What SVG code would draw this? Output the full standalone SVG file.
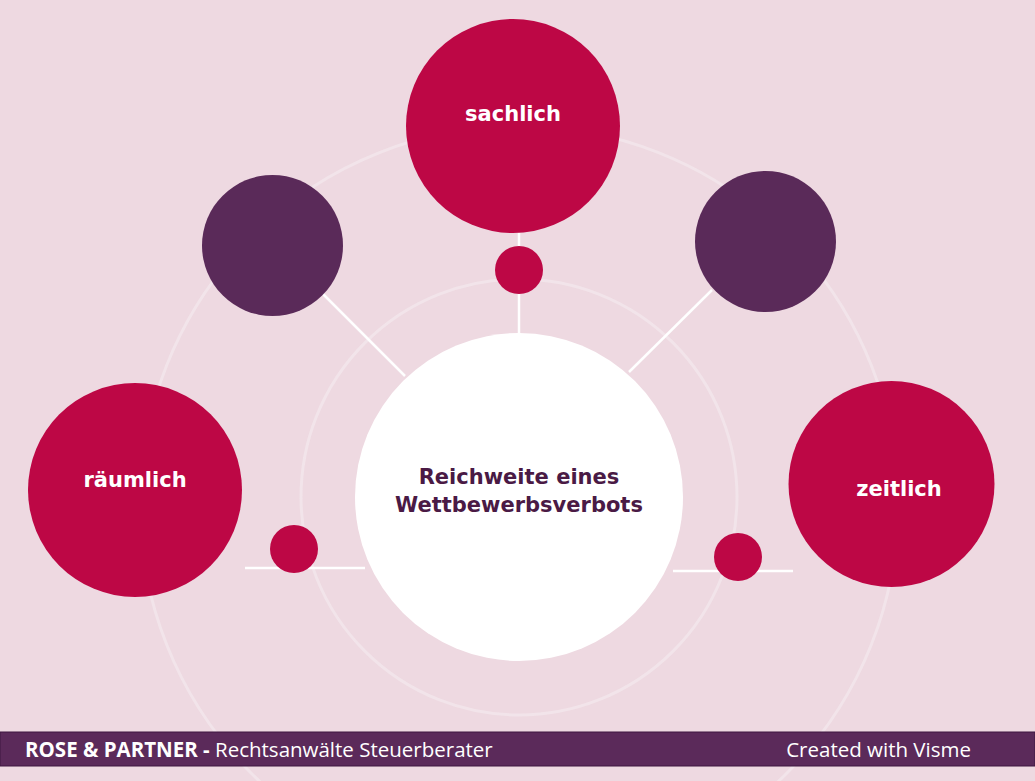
<svg xmlns="http://www.w3.org/2000/svg" width="1035" height="781" viewBox="0 0 1035 781">
<style>
.ring{fill:none;stroke:#f5e9ee;stroke-width:3;opacity:0.65}
.conn{stroke:#ffffff;stroke-width:2.5;fill:none}
.red{fill:#bd0745}
.purple{fill:#5a2a59}
.lbl{font-family:"DejaVu Sans","Open Sans",sans-serif;font-weight:700;font-size:21px;fill:#ffffff;text-anchor:middle}
.ctr{font-family:"DejaVu Sans","Open Sans",sans-serif;font-weight:700;font-size:21px;fill:#4a1a45;text-anchor:middle}
.foot{font-family:"Open Sans","Liberation Sans",sans-serif;font-size:20.5px;fill:#ffffff}
</style>
<rect x="0" y="0" width="1035" height="781" fill="#eed9e1"/>
<g id="rings">
<circle class="ring" cx="519" cy="505" r="379"/>
<circle class="ring" cx="519" cy="497" r="218"/>
</g>
<g id="connectors">
<line class="conn" x1="519" y1="233" x2="519" y2="335"/>
<line class="conn" x1="322" y1="293" x2="405" y2="376"/>
<line class="conn" x1="712" y1="290" x2="629" y2="372"/>
<line class="conn" x1="245" y1="568" x2="365" y2="568"/>
<line class="conn" x1="673" y1="571" x2="793" y2="571"/>
</g>
<g id="center">
<circle cx="519" cy="497" r="164" fill="#ffffff"/>
<text class="ctr" x="519" y="484">Reichweite eines</text>
<text class="ctr" x="519" y="512">Wettbewerbsverbots</text>
</g>
<g id="sachlich">
<circle class="red" cx="513" cy="126" r="107"/>
<text class="lbl" x="513" y="121">sachlich</text>
</g>
<g id="dot-top"><circle class="red" cx="519" cy="270" r="24"/></g>
<g id="purple-left"><circle class="purple" cx="272.5" cy="245.5" r="70.5"/></g>
<g id="purple-right"><circle class="purple" cx="765.5" cy="241.5" r="70.5"/></g>
<g id="raeumlich">
<circle class="red" cx="135" cy="490" r="107"/>
<text class="lbl" x="135" y="487">räumlich</text>
</g>
<g id="dot-left"><circle class="red" cx="294" cy="549" r="24"/></g>
<g id="zeitlich">
<circle class="red" cx="891.5" cy="484" r="103"/>
<text class="lbl" x="899" y="496">zeitlich</text>
</g>
<g id="dot-right"><circle class="red" cx="738" cy="557" r="24"/></g>
<g id="footer">
<rect x="0" y="732" width="1035" height="34" fill="#5b2a5a" stroke="#3f1740" stroke-width="1"/>
<text class="foot" x="25" y="757"><tspan font-weight="700">ROSE &amp; PARTNER - </tspan>Rechtsanwälte Steuerberater</text>
<text class="foot" x="971" y="757" text-anchor="end">Created with Visme</text>
</g>
</svg>
